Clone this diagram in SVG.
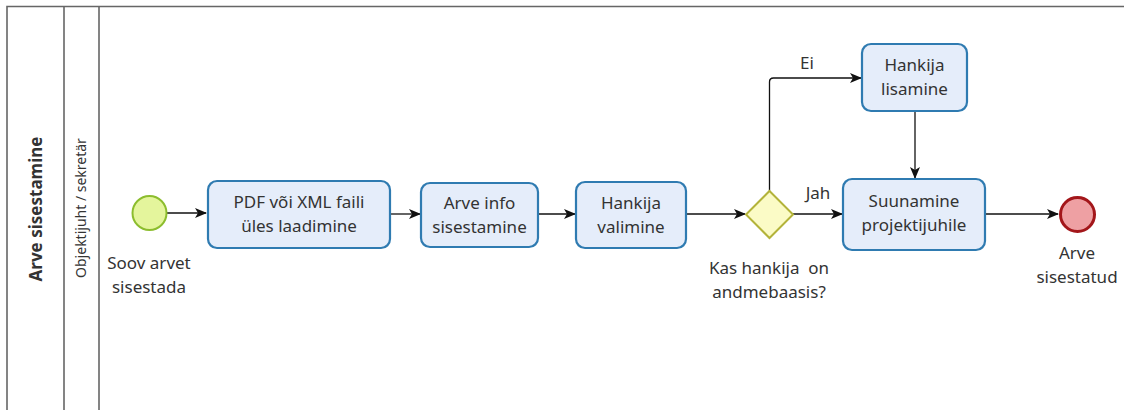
<svg xmlns="http://www.w3.org/2000/svg" width="1124" height="412" viewBox="0 0 1124 412">
  <defs>
    <marker id="arrow" viewBox="0 0 12 10" refX="11" refY="5" markerWidth="12" markerHeight="10" markerUnits="userSpaceOnUse" orient="auto">
      <path d="M0,0 L12,5 L0,10 L3,5 Z" fill="#111"/>
    </marker>
  </defs>
  <style>
    text { font-family: "Noto Sans", "Open Sans", "DejaVu Sans", sans-serif; fill: #333; }
    .lbl { font-size: 17px; text-anchor: middle; white-space: pre; }
    .task { fill: #e5edfa; stroke: #2f7bb1; stroke-width: 2.2; }
    .flow { fill: none; stroke: #111; stroke-width: 1.3; marker-end: url(#arrow); }
    .pool { fill: none; stroke: #666; stroke-width: 1.6; }
  </style>

  <rect width="1124" height="412" fill="#fff"/>

  <!-- pool and lane frame -->
  <g id="pool">
    <path class="pool" d="M1124,6.5 H7 V410 M64,6.5 V410 M99,6.5 V410"/>
    <text x="42" y="209" transform="rotate(-90 42 209)" font-size="17" font-weight="bold" text-anchor="middle" fill="#222">Arve sisestamine</text>
    <text x="86" y="208" transform="rotate(-90 86 208)" font-size="14" text-anchor="middle">Objektijuht / sekretär</text>
  </g>

  <!-- sequence flows -->
  <g id="connectors">
    <line class="flow" x1="166" y1="213" x2="206" y2="213"/>
    <line class="flow" x1="390" y1="214" x2="420" y2="214"/>
    <line class="flow" x1="538" y1="214" x2="575" y2="214"/>
    <line class="flow" x1="686" y1="214" x2="745" y2="214"/>
    <path class="flow" d="M769.5,191 V82 Q769.5,78 773.5,78 H861"/>
    <line class="flow" x1="793" y1="214" x2="842" y2="214"/>
    <line class="flow" x1="915" y1="111" x2="915" y2="178"/>
    <line class="flow" x1="985" y1="214" x2="1058" y2="214"/>
    <text class="lbl" x="807" y="69">Ei</text>
    <text class="lbl" x="818" y="199">Jah</text>
  </g>

  <g id="start">
    <circle cx="149.5" cy="213" r="17" fill="#e4f59c" stroke="#8cbd2e" stroke-width="2"/>
    <text class="lbl" x="149" y="269">Soov arvet</text>
    <text class="lbl" x="149" y="293">sisestada</text>
  </g>

  <g id="task-upload">
    <rect class="task" x="208" y="181" width="182" height="67" rx="9"/>
    <text class="lbl" x="299" y="208">PDF või XML faili</text>
    <text class="lbl" x="299" y="232">üles laadimine</text>
  </g>

  <g id="task-info">
    <rect class="task" x="421" y="183" width="117" height="64" rx="9"/>
    <text class="lbl" x="479.5" y="209">Arve info</text>
    <text class="lbl" x="479.5" y="233">sisestamine</text>
  </g>

  <g id="task-select">
    <rect class="task" x="576" y="182" width="110" height="66" rx="9"/>
    <text class="lbl" x="631" y="209">Hankija</text>
    <text class="lbl" x="631" y="233">valimine</text>
  </g>

  <g id="gateway">
    <polygon points="769.5,191 793,214.5 769.5,238 746,214.5" fill="#fbfbc6" stroke="#b3b33a" stroke-width="2"/>
    <text class="lbl" x="769" y="274">Kas hankija  on</text>
    <text class="lbl" x="769" y="298">andmebaasis?</text>
  </g>

  <g id="task-add">
    <rect class="task" x="862" y="44" width="105" height="67" rx="9"/>
    <text class="lbl" x="914.5" y="71">Hankija</text>
    <text class="lbl" x="914.5" y="95">lisamine</text>
  </g>

  <g id="task-route">
    <rect class="task" x="843" y="179" width="142" height="71" rx="9"/>
    <text class="lbl" x="914" y="207">Suunamine</text>
    <text class="lbl" x="914" y="231">projektijuhile</text>
  </g>

  <g id="end">
    <circle cx="1077.5" cy="214.5" r="17" fill="#eea0a3" stroke="#a3161a" stroke-width="3"/>
    <text class="lbl" x="1077" y="259">Arve</text>
    <text class="lbl" x="1077" y="283">sisestatud</text>
  </g>
</svg>
